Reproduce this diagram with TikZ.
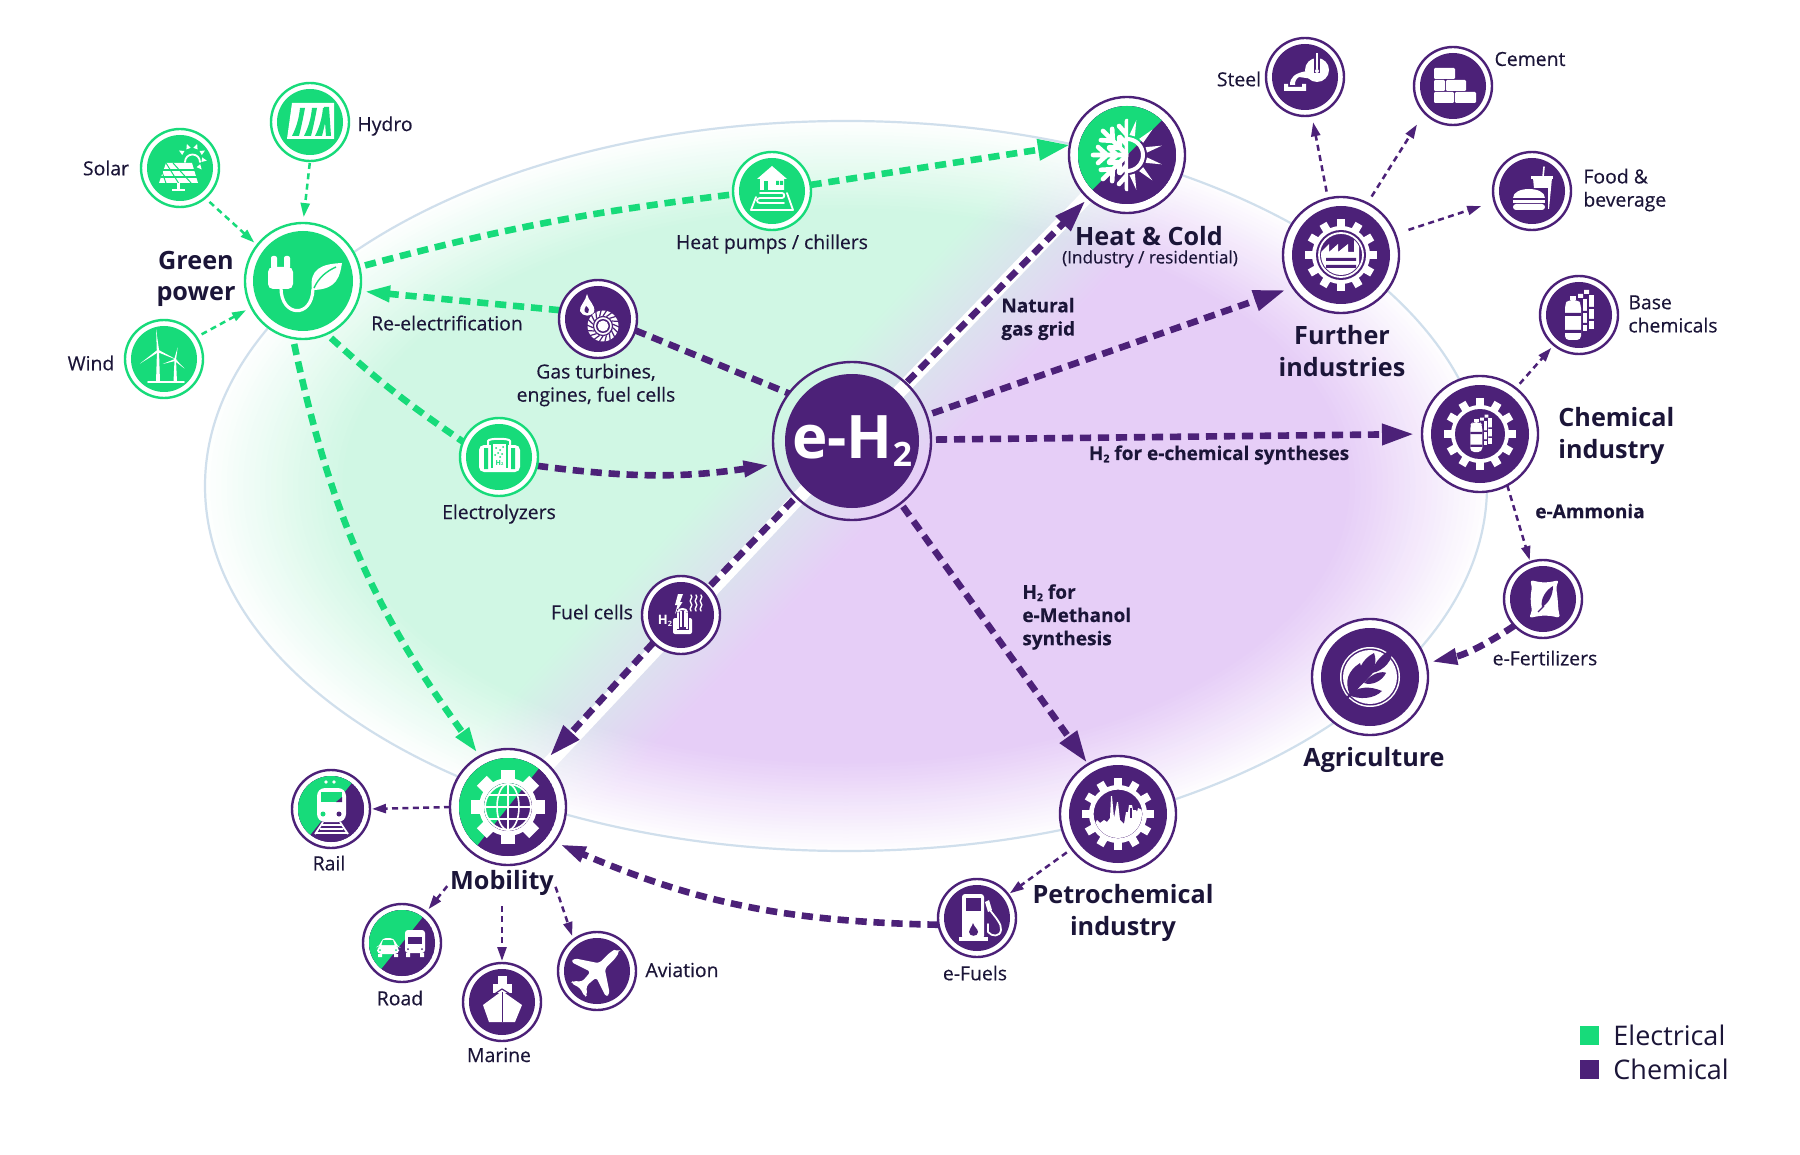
\documentclass[tikz,border=0pt]{standalone}
\usepackage{fontspec}
\setmainfont{Open Sans}
\newfontfamily\medf[FakeBold=0.35]{Open Sans}
\usetikzlibrary{arrows.meta,shapes.geometric}
\definecolor{gr}{HTML}{17DB7A}
\definecolor{pu}{HTML}{4C2178}
\definecolor{lgr}{HTML}{D0F7E4}
\definecolor{lpu}{HTML}{E6CEF7}
\definecolor{ink}{HTML}{1B1538}
\definecolor{ellip}{HTML}{D0DFEC}
\pgfdeclarelayer{bgl}\pgfdeclarelayer{edges}
\pgfsetlayers{bgl,edges,main}
\newcommand\subtwo{\raisebox{-.12em}{\scalebox{.56}{2}}}
\tikzset{
 hubring/.style={circle,draw=#1,fill=white,line width=1.2pt,inner sep=0pt,outer sep=0pt},
 lab/.style={font=\fontsize{9.7}{11.6}\selectfont\medf,text=ink,align=center,inner sep=0pt},
 labb/.style={font=\fontsize{9.5}{11.6}\selectfont\medf\bfseries,text=ink,align=center,inner sep=0pt},
 head/.style={font=\fontsize{12.6}{15.6}\selectfont\bfseries,text=ink,align=center,inner sep=0pt},
 heavyg/.style={draw=gr,line width=3.3pt,dash pattern=on 5.6pt off 3.4pt},
 heavyp/.style={draw=pu,line width=3.3pt,dash pattern=on 5.6pt off 3.4pt},
 thing/.style={draw=gr,line width=1.25pt,dash pattern=on 3pt off 2.2pt,-{Triangle[length=7pt,width=4.5pt,fill=gr]}},
 thinp/.style={draw=pu,line width=1.25pt,dash pattern=on 3pt off 2.2pt,-{Triangle[length=7pt,width=4.5pt,fill=pu]}},
 bigtip/.style={-{Triangle[length=16pt,width=10pt]}},
 smalltip/.style={-{Triangle[length=13pt,width=7.5pt]}},
 wband/.style={draw=white,line width=6.8pt},
 wl/.style={draw=white,line cap=round,line join=round},
}
\newcommand\hub[6]{\node[hubring=#6,minimum size=#4*0.5pt] (#1) at (#2,#3) {};\fill[#6] (#1) circle (#5);}
\newcommand\splitd[3]{\begin{scope}\clip (#1) circle (#2);\fill[pu] (#1) circle (#2);
  \begin{scope}[shift={(#1)}]\fill[gr] (-90,90*#3)--(90,-90*#3)--(-90,-90*#3)--cycle;\end{scope}\end{scope}}
\newcommand\gearw[5]{\fill[white] (0,0) circle (#3);
  \foreach \t in {1,...,#1}{\begin{scope}[rotate=\t*360/#1]\fill[white] (-#5,-#2) rectangle (#5,-#3+2);\end{scope}}
  \fill[pu] (0,0) circle (#4);}
\newcommand\cylw[5]{% x0 x1 y0 y1 fill
  \fill[#5,rounded corners=2pt] (#1,#3+4)--(#1+3,#3)--(#2-3,#3)--(#2,#3+4)--(#2,#4)--(#1,#4)--cycle;}
\begin{document}
\begin{tikzpicture}[x=0.5pt,y=-0.5pt]
\begin{pgfonlayer}{bgl}
\fill[white] (0,0) rectangle (1800,1155);
\foreach \k in {1,...,26}{
 \pgfmathsetmacro\ff{100*\k/26}
 \pgfmathsetmacro\rxx{641-(\k-1)*5.5}
 \pgfmathsetmacro\ryy{365-(\k-1)*3.5}
 \colorlet{cg}{lgr!\ff!white}
 \colorlet{cp}{lpu!\ff!white}
 \begin{scope}
 \clip (846,486) ellipse [x radius=\rxx,y radius=\ryy];
 \begin{scope}[transform canvas={shift={(851,443)},rotate=-44}]
  \fill[cg] (-2200,-2200) rectangle (-70,2200);
  \shade[left color=cg,right color=cp] (-70.2,-2200) rectangle (70.2,2200);
  \fill[cp] (70,-2200) rectangle (2200,2200);
 \end{scope}
 \end{scope}
}
\draw[ellip,line width=1.1pt] (846,486) ellipse [x radius=641,y radius=365];
\end{pgfonlayer}
\useasboundingbox (0,0) rectangle (1800,1155);

%% hubs
\hub{green}{303}{281}{116}{50}{gr}
\hub{hydro}{310}{122}{78}{33}{gr}
\hub{solar}{180}{168}{78}{33}{gr}
\hub{wind}{164}{359}{78}{33}{gr}
\hub{heatp}{772}{191}{78}{33}{gr}
\hub{elec}{499}{457}{78}{33}{gr}
\hub{gas}{598}{319}{78}{33}{pu}
\hub{fuel}{681}{615}{78}{33}{pu}
\hub{hc}{1127}{155}{116}{49}{pu}
\hub{further}{1341}{255}{116}{49}{pu}
\hub{steel}{1305}{77}{78}{33}{pu}
\hub{cement}{1453}{86}{78}{33}{pu}
\hub{food}{1532}{191}{78}{33}{pu}
\hub{base}{1579}{315}{78}{33}{pu}
\hub{chem}{1480}{434}{116}{49}{pu}
\hub{fert}{1543}{599}{78}{33}{pu}
\hub{agri}{1370}{677}{116}{49}{pu}
\hub{petro}{1118}{814}{116}{49}{pu}
\hub{efuels}{977}{918}{78}{33}{pu}
\hub{mob}{508}{807}{116}{49}{pu}
\hub{rail}{331}{809}{78}{33}{pu}
\hub{road}{402}{943}{78}{33}{pu}
\hub{marine}{502}{1002}{78}{33}{pu}
\hub{avia}{597}{971}{78}{33}{pu}
\node[circle,draw=pu,line width=1.2pt,inner sep=0pt,outer sep=0pt,minimum size=79pt] (eh) at (852,441) {};
\fill[pu] (eh) circle (67);
\node[font=\fontsize{30}{30}\selectfont\bfseries,text=white,inner sep=0pt] (ehtxt) at (852,441) {e-H\subtwo};
\splitd{hc}{49}{1}
\splitd{mob}{49}{1.25}
\splitd{rail}{33}{1.25}
\splitd{road}{33}{1.25}

%% labels
\node[lab] (t1) at (385,126) {Hydro};
\node[lab] (t2) at (106,168) {Solar};
\node[lab] (t3) at (91,363) {Wind};
\node[head] (t4) at (196,279) {Green\\power};
\node[lab] (t5) at (447,323) {Re-electrification};
\node[lab] (t6) at (772,244) {Heat pumps / chillers};
\node[lab] (t7) at (596,385) {Gas turbines,\\engines, fuel cells};
\node[lab] (t8) at (499,514) {Electrolyzers};
\node[labb,align=left,anchor=west] (t9) at (1001,319) {Natural\\gas grid};
\node[head] (t10) at (1149,236) {Heat \& Cold};
\node[font=\fontsize{8.6}{10}\selectfont\medf,text=ink,inner sep=0pt] (t11) at (1150,259) {(Industry / residential)};
\node[lab] (t12) at (1239,79) {Steel};
\node[lab] (t13) at (1530,59) {Cement};
\node[lab,align=left,anchor=west] (t14) at (1583,190) {Food \&\\beverage};
\node[head] (t15) at (1342,351) {Further\\industries};
\node[lab,align=left,anchor=west] (t16) at (1628,314) {Base\\chemicals};
\node[head,align=left,anchor=west] (t17) at (1558,436) {Chemical\\industry};
\node[labb] (t18) at (1219,455) {H\subtwo\ for e-chemical syntheses};
\node[labb] (t19) at (1590,511) {e-Ammonia};
\node[labb,align=left,anchor=west] (t20) at (1022,617) {H\subtwo\ for\\e-Methanol\\synthesis};
\node[lab] (t21) at (1545,658) {e-Fertilizers};
\node[head] (t22) at (1374,760) {Agriculture};
\node[head] (t23) at (1123,913) {Petrochemical\\industry};
\node[lab] (t24) at (975,973) {e-Fuels};
\node[head] (moblab) at (502,883) {Mobility};
\node[lab] (t26) at (329,863) {Rail};
\node[lab] (t27) at (400,998) {Road};
\node[lab] (t28) at (499,1055) {Marine};
\node[lab] (t29) at (682,970) {Aviation};
\node[lab] (t30) at (592,612) {Fuel cells};
\node[fill=gr,minimum size=9.5pt,inner sep=0pt] (lg1) at (1589.5,1035) {};
\node[fill=pu,minimum size=9.5pt,inner sep=0pt] (lg2) at (1589.5,1069) {};
\node[font=\fontsize{13.5}{16}\selectfont,text=ink,inner sep=0pt,anchor=west] (lt1) at (1613,1035) {Electrical};
\node[font=\fontsize{13.5}{16}\selectfont,text=ink,inner sep=0pt,anchor=west] (lt2) at (1613,1069) {Chemical};

%% connectors
\begin{pgfonlayer}{edges}
\draw[wband] (eh.center) -- (hc.center);
\draw[wband] (eh.center) -- (mob.center);
\draw[heavyg,shorten <=3pt] (green.14) to[bend left=4] (heatp.185);
\draw[heavyg,bigtip] (heatp.9) -- (hc.170);
\draw[heavyg,smalltip,shorten >=2pt,shorten <=3pt] (green.260) to[bend right=12] (mob.119);
\draw[heavyg,shorten <=3pt] (green.294) to[bend right=4] (elec.157);
\draw[heavyg,smalltip,shorten >=2pt] (gas.167) -- (green.350);
\draw[heavyp] (gas.-17) -- (eh.143);
\draw[heavyp,smalltip,shorten >=3.5pt] (elec.-13) to[bend right=8] (eh.197);
\draw[heavyp,bigtip,shorten <=1pt,shorten >=2pt] (eh.47) -- (hc.228);
\draw[heavyp,bigtip,shorten <=3pt,shorten >=4pt] (eh.19) -- (further.214);
\draw[heavyp,bigtip,shorten <=2.5pt,shorten >=4pt] (eh.1) -- (chem.180);
\draw[heavyp,bigtip,shorten <=2pt,shorten >=1pt] (eh.-52) -- (petro.121);
\draw[heavyp,shorten <=2pt] (eh.225) -- (fuel.45);
\draw[heavyp,bigtip,shorten >=4pt] (fuel.225) -- (mob.51);
\draw[heavyp,smalltip,shorten >=3pt] (efuels.190) to[bend left=11] (mob.-37);
\draw[heavyp,smalltip,shorten >=2.5pt] (fert.223) to[bend left=11] (agri.14);
\draw[thing,shorten <=1pt,shorten >=3pt] (hydro.-90) -- (green.90);
\draw[thing,shorten <=3pt,shorten >=2pt] (solar.-50) -- (green.142);
\draw[thing,shorten <=3pt,shorten >=3pt] (wind.34) -- (green.207);
\draw[thinp,shorten <=3.5pt,shorten >=3.5pt] (further.103) -- (steel.-80);
\draw[thinp,shorten <=4pt,shorten >=7pt] (further.63) -- (cement.223);
\draw[thinp,shorten <=7pt,shorten >=7pt] (further.21) -- (food.196);
\draw[thinp,shorten <=3pt,shorten >=2pt] (chem.52) -- (base.230);
\draw[thinp,shorten >=1pt] (chem.-62) -- (fert.109);
\draw[thinp,shorten <=3pt,shorten >=1pt] (petro.217) -- (efuels.37);
\draw[thinp,shorten >=1pt] (mob.180) -- (rail.0);
\draw[thinp,shorten <=2pt,shorten >=2pt] (moblab.west) -- (road.52);
\draw[thinp,shorten <=5pt,shorten >=1pt] (moblab.south) -- (marine.90);
\draw[thinp,shorten <=2pt,shorten >=2pt] (moblab.east) -- (avia.127);
\end{pgfonlayer}

%% icons
% green power: plug and leaf
\begin{scope}[shift={(green)}]
 \fill[white,rounded corners=2.5pt] (-35,-14) rectangle (-10,8);
 \fill[white,rounded corners=1pt] (-32,-25) rectangle (-26,-12) (-19,-25) rectangle (-13,-12);
 \draw[wl,line width=1.6pt] (-22,7) .. controls (-22,36) and (9,38) .. (10,8);
 \fill[white] (9,9) .. controls (6,-12) and (18,-17) .. (39,-18) .. controls (37,-6) and (35,9) .. cycle;
 \draw[gr,line width=.7pt] (11,7) .. controls (16,-4) and (24,-10) .. (33,-14);
\end{scope}
% hydro
\begin{scope}[shift={(hydro)}]
 \fill[white] (-18,-19)--(24,-19)--(24,17)--(-23,17)--cycle;
 \foreach \o in {-10,2,13}{\fill[gr] (\o,-14)--(\o+5,-14) .. controls (\o+3,-3) and (\o+1,6) .. (\o-1,14)--(\o-8,14) .. controls (\o-4,6) and (\o-1,-3) .. cycle;}
 \fill[gr] (14,-15)--(19,-15)--(21,14)--(16,14)--cycle;
\end{scope}
% solar
\begin{scope}[shift={(solar)}]
 \fill[white] (-14,-5)--(12,-5)--(18,15)--(-21,15)--cycle;
 \foreach \u in {-7,0,7}{\draw[gr,line width=.5pt] (-14+\u*1.0,-5)--(-1.5+\u*1.8,15);}
 \draw[gr,line width=.6pt] (-17,2)--(15,2) (-19,9)--(17,9);
 \fill[white] (-3,15) rectangle (0,22);\fill[white] (-8,21) rectangle (5,23);
 \draw[wl,line width=.9pt] (5,-6) arc (180:360:7.5);
 \foreach \a in {150,110,70,30,-10,-50}{\begin{scope}[shift={(12,-10)},rotate=\a]\fill[white] (10,-2.3)--(15,0)--(10,2.3)--cycle;\end{scope}}
\end{scope}
% wind
\begin{scope}[shift={(wind)}]
 \draw[wl,line width=.9pt] (-16,23)--(20,23);
 \fill[white] (-7,-8)--(-5,-8)--(-4,23)--(-8,23)--cycle;
 \fill[white] (10.5,1)--(12,1)--(13,23)--(9.5,23)--cycle;
 \foreach \a in {0,120,240}{\begin{scope}[shift={(-6,-8)},rotate=\a+5]\fill[white] (-1.2,0)--(0,-22)--(1.2,0)--cycle;\end{scope}}
 \foreach \a in {0,120,240}{\begin{scope}[shift={(11,1)},rotate=\a-12]\fill[white] (-1,0)--(0,-13)--(1,0)--cycle;\end{scope}}
\end{scope}
% heat pump
\begin{scope}[shift={(heatp)}]
 \fill[white] (0,-25)--(15,-12)--(12,-12)--(12,-1)--(-12,-1)--(-12,-12)--(-15,-12)--cycle;
 \fill[gr] (-8,-10) rectangle (-4,-1);
 \fill[gr] (4,-10) rectangle (7,-6) (8,-10) rectangle (11,-6);
 \draw[wl,line width=.9pt] (-12,2)--(10,2) .. controls (13,2) and (13,7) .. (10,7)--(-12,7) .. controls (-16,7) and (-16,12) .. (-12,12)--(12,12);
 \draw[wl,line width=.9pt] (-16,6)--(-21,19)--(21,19)--(15,2);
\end{scope}
% gas turbine
\begin{scope}[shift={(gas)}]
 \fill[white] (-11,-25) .. controls (-10,-18) and (-2,-14) .. (-4,-7) .. controls (-6,-2) and (-16,-2) .. (-18,-8) .. controls (-19,-13) and (-12,-18) .. cycle;
 \fill[pu] (-12,-13) .. controls (-9,-11) and (-8,-8) .. (-10,-6) .. controls (-13,-6) and (-15,-8) .. cycle;
 \begin{scope}[shift={(5,7)}]
  \fill[white] (0,0) circle (15.5);
  \foreach \a in {0,20,...,340}{\draw[pu,line width=.6pt,rotate=\a] (0,-10)--(4,-16);}
  \draw[pu,line width=.6pt] (0,0) circle (9.5);
  \fill[pu] (0,0) circle (7);\fill[white] (0,0) circle (5.5);
 \end{scope}
\end{scope}
% electrolyzer
\begin{scope}[shift={(elec)}]
 \fill[white,rounded corners=2.5pt] (-20,-12) rectangle (21,15);
 \draw[wl,line width=1pt] (-11,-12)--(-11,-16) .. controls (-11,-19) and (11,-19) .. (11,-16)--(11,-12);
 \fill[gr] (-15,-9) rectangle (-11,12) (12,-9) rectangle (16,12);
 \fill[gr] (-8,-13) rectangle (9,11);
 \fill[white] (-6,-13) rectangle (7,11);
 \foreach \p/\q in {-3/-9,1/-7,4/-10,-1/-4,3/-3,-4/-2,1/0}{\fill[gr] (\p,\q) circle (1);}
 \node[font=\fontsize{3.5}{4}\selectfont\bfseries,text=gr,inner sep=0pt] (elecH) at (0.5,6) {H\subtwo};
\end{scope}
% fuel cell
\begin{scope}[shift={(fuel)}]
 \node[font=\fontsize{6.5}{7}\selectfont\bfseries,text=white,inner sep=0pt] (fuelH) at (-16,6) {H\subtwo};
 \fill[white] (-3,-21)--(2,-21)--(-1,-13)--(1.5,-13)--(-6,-1)--(-3.5,-10)--(-6,-10)--cycle;
 \fill[white,rounded corners=1pt] (-8,3) rectangle (11,19);
 \fill[pu] (-4.5,-6) rectangle (7.5,15);
 \draw[white,line width=1.3pt] (-3,-2)--(-3,14) (6,-2)--(6,14);
 \draw[wl,line width=1pt] (-3,-3) .. controls (-3,-7) and (6,-7) .. (6,-3);
 \draw[white,line width=1pt] (-.5,-4)--(-.5,12) (3.5,-4)--(3.5,12);
 \foreach \o in {10,15,20}{\draw[wl,line width=.7pt] (\o,-20) .. controls (\o+3,-17) and (\o-3,-15) .. (\o,-12) .. controls (\o+3,-9) and (\o-3,-7) .. (\o,-4);}
\end{scope}
% heat and cold
\begin{scope}[shift={(hc)}]
 \begin{scope}\clip (-40,-40) rectangle (1.2,40);
  \foreach \a in {0,45,90,135,180}{\begin{scope}[rotate=\a]
   \draw[wl,line width=2.3pt] (0,0)--(0,-34) (0,-20)--(-8,-29) (0,-20)--(8,-29) (0,-10)--(-7,-18) (0,-10)--(7,-18);
  \end{scope}}
 \end{scope}
 \begin{scope}\clip (0,-40) rectangle (40,40);
  \draw[white,line width=2pt] (0,0) circle (16);
  \foreach \a in {15,45,75,105,135,165}{\begin{scope}[rotate=-\a]\fill[white] (-2.8,-20)--(2.8,-20)--(0,-36)--cycle;\end{scope}}
 \end{scope}
\end{scope}
% further
\begin{scope}[shift={(further)}]
 \gearw{12}{36}{29}{25}{4}
 \draw[white,line width=.9pt] (0,0) circle (22);
 \begin{scope}\clip (0,0) circle (20);
  \fill[white] (-20,-3)--(-12,-11)--(-12,-3)--(-3,-11)--(-3,-3)--(7,-11)--(7,-3)--(13,-3)--(13,-24)--(18,-24)--(18,25)--(-20,25)--cycle;
  \fill[pu] (-15,3) rectangle (15,6) (-15,10) rectangle (15,13);
 \end{scope}
\end{scope}
% steel
\begin{scope}[shift={(steel)}]
 \fill[white] (12,-7) circle (12);
 \fill[white] (2,-6)--(8,2)--(-6,0) .. controls (-9,2) and (-10,4) .. (-10,8)--(-15,8) .. controls (-15,0) and (-10,-4) .. cycle;
 \fill[white] (-21,7) rectangle (-17,13) (-21,10) rectangle (1,14) (-3,7) rectangle (1,13);
 \fill[pu] (9,-24) rectangle (15,-4);
 \fill[white] (11,-24) rectangle (13,-8);
 \fill[white] (12,-6) circle (2);
\end{scope}
% cement
\begin{scope}[shift={(cement)}]
 \fill[white,rounded corners=.6pt] (-19,-18) rectangle (2,-7) (-19,-6) rectangle (-8,5) (-7,-6) rectangle (13,5) (-19,6) rectangle (1,17) (2,6) rectangle (23,17);
\end{scope}
% food
\begin{scope}[shift={(food)}]
 \fill[white] (1,-13)--(20,-13)--(17,18)--(4,18)--cycle;
 \fill[white] (-1,-15) rectangle (21,-12);
 \draw[wl,line width=.8pt] (11,-14)--(12,-24);
 \fill[pu] (-21,-3) rectangle (16,20);
 \fill[white] (-19,7) .. controls (-19,-5) and (13,-5) .. (13,7)--cycle;
 \fill[white] (-19,9) rectangle (13,12);
 \fill[white,rounded corners=1.5pt] (-19,13) rectangle (13,19);
\end{scope}
% base chemicals
\begin{scope}[shift={(base)}]
 \cylw{-14}{2}{-15}{25}{white}
 \fill[white] (-9,-19) rectangle (-3,-15);
 \fill[pu] (-14,-2) rectangle (2,1) (-14,15) rectangle (2,18);
 \fill[white] (4,-16) rectangle (8,16);
 \fill[white] (10,-20) rectangle (15,14);
 \fill[white] (-1,-21) rectangle (4,-17) (5,-25) rectangle (10,-21);
 \fill[pu] (4,-4) rectangle (8,-2) (10,-8) rectangle (15,-6) (4,8) rectangle (8,10) (10,4) rectangle (15,6);
\end{scope}
% chemical industry
\begin{scope}[shift={(chem)}]
 \gearw{12}{36}{29}{25}{4}
 \begin{scope}[scale=.75,shift={(1,-1)}]
  \cylw{-14}{2}{-15}{25}{white}
  \fill[white] (-9,-19) rectangle (-3,-15);
  \fill[pu] (-14,-2) rectangle (2,1) (-14,15) rectangle (2,18);
  \fill[white] (4,-16) rectangle (8,16);
  \fill[white] (10,-20) rectangle (15,14);
  \fill[white] (-1,-21) rectangle (4,-17) (5,-25) rectangle (10,-21);
  \fill[pu] (4,-4) rectangle (8,-2) (10,-8) rectangle (15,-6) (4,8) rectangle (8,10) (10,4) rectangle (15,6);
 \end{scope}
\end{scope}
% fertilizer
\begin{scope}[shift={(fert)}]
 \fill[white,rounded corners=1.5pt] (-13,-19) .. controls (0,-16) and (4,-16) .. (16,-19)--(13,-12) .. controls (15,0) and (15,8) .. (16,14)--(17,19) .. controls (5,16) and (0,16) .. (-14,19)--(-11,12) .. controls (-13,0) and (-12,-6) .. (-11,-12)--cycle;
 \fill[pu] (10,-13) .. controls (10,-4) and (6,4) .. (-1,8) .. controls (-3,0) and (3,-9) .. cycle;
 \draw[pu,line width=.6pt] (-5,13)--(1,7);
\end{scope}
% agriculture
\begin{scope}[shift={(agri)}]
 \fill[white] (0,0) circle (30);
 \fill[pu] (0,0) circle (28.5);
 \fill[white] (0,0) circle (27);
 \draw[pu,line width=1.1pt] (-24,22) .. controls (-10,8) and (6,-8) .. (20,-25);
 \fill[pu] (-20,18) .. controls (-26,4) and (-22,-6) .. (-10,-14) .. controls (-6,-4) and (-8,8) .. cycle;
 \fill[pu] (-12,10) .. controls (-14,-6) and (-8,-18) .. (4,-24) .. controls (8,-14) and (4,-2) .. cycle;
 \fill[pu] (-22,18) .. controls (-12,9) and (0,9) .. (12,14) .. controls (4,22) and (-10,23) .. cycle;
 \fill[pu] (-6,6) .. controls (2,-5) and (14,-6) .. (16,-4) .. controls (12,4) and (2,9) .. cycle;
 \fill[pu] (2,-4) .. controls (4,-16) and (14,-24) .. (22,-28) .. controls (24,-18) and (14,-6) .. cycle;
\end{scope}
% petrochemical
\begin{scope}[shift={(petro)}]
 \gearw{12}{36}{29}{25}{4}
 \draw[white,line width=.6pt] (0,0) circle (25);
 \begin{scope}\clip (0,0) circle (24);
  \fill[white] (-24,11)--(-21,6)--(-18,9)--(-14,6)--(-11,8)--(-8,4)--(-7,-18)--(-6,-18)--(-4,4)--(-1,-12)--(0,-12)--(2,6)--(6,10)--(8,-2)--(10,-2)--(11,-9)--(14,-9)--(15,-4)--(18,-4)--(19,-2)--(20,-6)--(24,-4)--(24,30)--(-24,30)--cycle;
  \fill[pu] (12,-6) rectangle (14,4);
 \end{scope}
\end{scope}
% e-fuels
\begin{scope}[shift={(efuels)}]
 \fill[white,rounded corners=1.5pt] (-15,-24) rectangle (7,21);
 \fill[white] (-18,19) rectangle (11,23);
 \fill[pu] (-11,-20) rectangle (4,-7);
 \fill[pu] (-4,5) .. controls (-3,9) and (1,11) .. (1,14) .. controls (1,19) and (-8,19) .. (-8,14) .. controls (-8,11) and (-5,9) .. cycle;
 \fill[white] (12,-18)--(15,-8)--(11,-6)--(8,-16)--cycle;
 \draw[wl,line width=.9pt] (13,-8) .. controls (18,-1) and (25,6) .. (24,12) .. controls (23,19) and (15,19) .. (11,14)--(11,6);
\end{scope}
% mobility
\begin{scope}[shift={(mob)}]
 \gearw{8}{37}{29}{24}{7}
\end{scope}
\splitd{mob}{24}{1.25}
\begin{scope}[shift={(mob)}]
 \draw[white,line width=.9pt] (0,0) circle (23);
 \draw[white,line width=.8pt] (0,-23)--(0,23) (-23,0)--(23,0) (-19,-12)--(19,-12) (-19,12)--(19,12);
 \draw[white,line width=.8pt] (0,0) ellipse [x radius=11,y radius=23];
\end{scope}
% rail
\begin{scope}[shift={(rail)}]
 \fill[white,rounded corners=4pt] (-14,-21) rectangle (15,13);
 \fill[white] (-5,-27) circle (1.8) (3,-27) circle (1.8);
 \fill[gr] (-10,-17) rectangle (11,-7);
 \fill[pu] (11,-12)--(11,-7)--(5,-7)--cycle;
 \fill[gr] (-8,5) circle (2.5);\fill[pu] (8,5) circle (2.5);
 \draw[white,line width=.9pt] (-8,13)--(-16,25) (9,13)--(17,25) (-9,16)--(10,16) (-11,20)--(12,20) (-16,24)--(17,24);
\end{scope}
% road
\begin{scope}[shift={(road)}]
 \fill[white,rounded corners=2pt] (-25,4)--(-22,3)--(-20,-5)--(-8,-5)--(-5,3)--(-3,4)--(-3,11)--(-25,11)--cycle;
 \fill[gr] (-19,-3)--(-9,-3)--(-7.5,2)--(-20.5,2)--cycle;
 \fill[white] (-24,11) rectangle (-20,14) (-8,11) rectangle (-4,14);
 \fill[gr] (-22,7) circle (1) (-6,7) circle (1);
 \fill[white,rounded corners=1.5pt] (3,-13) rectangle (23,10);
 \fill[pu] (6,-6) rectangle (20,1);
 \fill[white] (4,10) rectangle (8,14) (18,10) rectangle (22,14);
 \fill[pu] (6,6) circle (1) (20,6) circle (1);
\end{scope}
% marine
\begin{scope}[shift={(marine)}]
 \fill[white] (-4,-26) rectangle (5,-17);
 \fill[white] (-9,-18) rectangle (10,-9);
 \fill[white] (-19,3)--(0,-11)--(20,3)--(13,20)--(-13,20)--cycle;
 \draw[pu,line width=.7pt] (0.5,-10)--(.5,20);
 \draw[pu,line width=.6pt] (-12,-5)--(0,-13)--(13,-5);
\end{scope}
% aviation
\begin{scope}[shift={(avia)},rotate=-45]
 \fill[white,rounded corners=1.5pt] (0,-29) .. controls (3,-27) and (4,-22) .. (4,-16)--(4,-7)--(25,7)--(25,12)--(4,5)--(3,18)--(10,24)--(10,27)--(0,24)--(-10,27)--(-10,24)--(-3,18)--(-4,5)--(-25,12)--(-25,7)--(-4,-7)--(-4,-16) .. controls (-4,-22) and (-3,-27) .. cycle;
\end{scope}
\end{tikzpicture}
\end{document}
